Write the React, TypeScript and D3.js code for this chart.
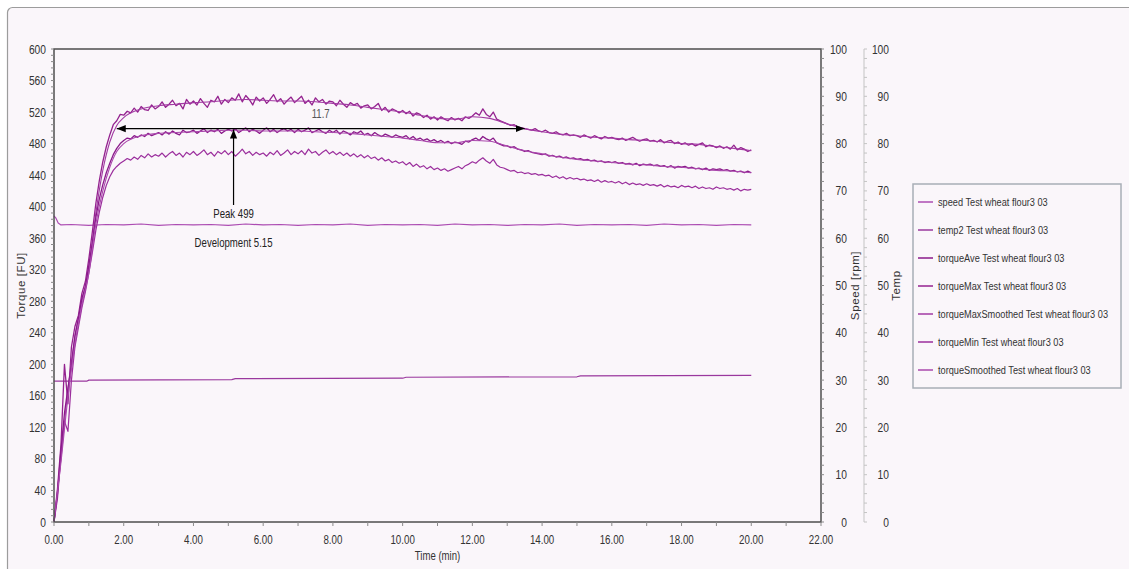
import React from 'react';
import * as d3 from 'd3';

const W = 1129;
const H = 569;
const FONT = "'Liberation Sans', Arial, sans-serif";

// ---- axis ticks ----
const timeTicks = [0, 2, 4, 6, 8, 10, 12, 14, 16, 18, 20, 22];
const torqueTicks = [0, 40, 80, 120, 160, 200, 240, 280, 320, 360, 400, 440, 480, 520, 560, 600];
const speedTicks = [0, 10, 20, 30, 40, 50, 60, 70, 80, 90, 100];
const tempTicks = [0, 10, 20, 30, 40, 50, 60, 70, 80, 90, 100];

// ---- sample times (min) for the noisy torque traces ----
const timeMin = [
  0.0, 0.1, 0.2, 0.3, 0.4, 0.5, 0.6, 0.7, 0.8, 0.9,
  1.0, 1.1, 1.2, 1.3, 1.4, 1.5, 1.6, 1.7, 1.8, 1.9,
  2.0, 2.1, 2.2, 2.3, 2.4, 2.5, 2.6, 2.7, 2.8, 2.9,
  3.0, 3.1, 3.2, 3.3, 3.4, 3.5, 3.6, 3.7, 3.8, 3.9,
  4.0, 4.1, 4.2, 4.3, 4.4, 4.5, 4.6, 4.7, 4.8, 4.9,
  5.0, 5.1, 5.2, 5.3, 5.4, 5.5, 5.6, 5.7, 5.8, 5.9,
  6.0, 6.1, 6.2, 6.3, 6.4, 6.5, 6.6, 6.7, 6.8, 6.9,
  7.0, 7.1, 7.2, 7.3, 7.4, 7.5, 7.6, 7.7, 7.8, 7.9,
  8.0, 8.1, 8.2, 8.3, 8.4, 8.5, 8.6, 8.7, 8.8, 8.9,
  9.0, 9.1, 9.2, 9.3, 9.4, 9.5, 9.6, 9.7, 9.8, 9.9,
  10.0, 10.1, 10.2, 10.3, 10.4, 10.5, 10.6, 10.7, 10.8, 10.9,
  11.0, 11.1, 11.2, 11.3, 11.4, 11.5, 11.6, 11.7, 11.8, 11.9,
  12.0, 12.1, 12.2, 12.3, 12.4, 12.5, 12.6, 12.7, 12.8, 12.9,
  13.0, 13.1, 13.2, 13.3, 13.4, 13.5, 13.6, 13.7, 13.8, 13.9,
  14.0, 14.1, 14.2, 14.3, 14.4, 14.5, 14.6, 14.7, 14.8, 14.9,
  15.0, 15.1, 15.2, 15.3, 15.4, 15.5, 15.6, 15.7, 15.8, 15.9,
  16.0, 16.1, 16.2, 16.3, 16.4, 16.5, 16.6, 16.7, 16.8, 16.9,
  17.0, 17.1, 17.2, 17.3, 17.4, 17.5, 17.6, 17.7, 17.8, 17.9,
  18.0, 18.1, 18.2, 18.3, 18.4, 18.5, 18.6, 18.7, 18.8, 18.9,
  19.0, 19.1, 19.2, 19.3, 19.4, 19.5, 19.6, 19.7, 19.8, 19.9,
  20.0,
];

const torqueMax = [
  0, 42, 98, 200, 150, 222, 248, 262, 290, 305,
  334, 368, 404, 433, 457, 476, 491, 504, 509, 517,
  516, 521, 519, 525, 520, 527, 523, 522, 529, 524,
  527, 533, 526, 530, 535, 528, 531, 524, 536, 530,
  534, 529, 537, 531, 526, 535, 533, 540, 530, 536,
  532, 538, 535, 543, 533, 541, 536, 529, 539, 534,
  538, 531, 536, 542, 533, 537, 530, 535, 539, 532,
  536, 540, 531, 535, 529, 538, 533, 536, 530, 534,
  533, 528, 535, 530, 526, 532, 529, 531, 525, 528,
  529, 524, 527, 531, 522, 526, 520, 524, 522, 519,
  522, 518, 521, 515, 519, 517, 513, 516, 511, 514,
  510, 514, 511, 509, 513, 510, 512, 509, 514, 512,
  515, 519, 516, 524, 517, 514, 520, 511, 509, 507,
  505, 503, 504, 501, 500, 499, 498, 497, 499, 496,
  495, 497, 494, 493, 495, 492, 491, 493, 490, 491,
  490, 488, 491, 489, 487, 490, 488, 486, 489, 487,
  488, 486, 485, 487, 484, 486, 488, 485, 483, 485,
  486, 483, 484, 482, 485, 481, 483, 484, 480, 482,
  479, 481, 478, 480, 477, 479, 481, 476, 478, 477,
  475, 477, 474, 476, 473, 478, 472, 475, 473, 470,
  472,
];

const torqueAve = [
  0, 36, 92, 138, 170, 198, 236, 258, 284, 298,
  326, 354, 386, 410, 428, 443, 455, 466, 474, 480,
  484, 487, 486, 490, 488, 491, 489, 493, 490, 492,
  494, 491, 495, 492, 496, 493, 491, 497, 494, 495,
  497, 493, 496, 499, 494, 497, 495, 498, 493, 496,
  498, 496, 499, 494, 497, 500, 495, 498, 496, 493,
  497, 500, 495, 498, 494, 497, 499, 496, 498, 494,
  498, 495, 497, 500, 494, 496, 498, 495, 493, 497,
  494, 497, 492, 496, 494, 491, 495, 493, 496, 491,
  493, 490, 494, 491, 489, 492, 490, 488, 491, 489,
  488, 490, 486, 489, 485, 487, 484, 486, 483, 485,
  482, 484, 481, 483, 480, 482, 481, 479, 483, 482,
  485, 487, 484, 489, 486, 484, 487, 481, 479, 477,
  477, 475, 476, 473, 472, 470, 471, 469, 468, 467,
  466, 467, 464, 465, 463, 464, 462, 463, 461, 462,
  460, 461, 459, 460, 458, 459, 457, 458, 456, 457,
  456, 457, 455, 456, 454, 455, 453, 455, 452, 454,
  453, 454, 452, 453, 451, 452, 450, 452, 449, 451,
  450, 451, 449, 450, 448, 449, 447, 449, 446, 448,
  447, 448, 446, 447, 445, 446, 444, 445, 443, 445,
  443,
];

const torqueMin = [
  0, 30, 84, 128, 115, 180, 222, 247, 272, 292,
  316, 342, 370, 393, 412, 427, 438, 446, 451, 455,
  458, 461, 459, 463, 460, 465, 462, 467, 463, 466,
  464, 468, 463, 467, 470, 465, 468, 463, 469, 466,
  470, 465, 468, 472, 466, 469, 464, 470, 467, 471,
  466, 470, 464, 468, 473, 467, 470, 465, 469, 466,
  468, 464, 469, 466, 471, 465, 468, 472, 466, 470,
  467, 471, 466, 473, 468, 470, 465, 469, 472, 467,
  470, 466, 469, 465, 468, 464, 467, 463, 466, 462,
  465, 461, 463, 459, 462, 458, 460, 456, 458, 455,
  457, 453, 456, 451, 454, 450, 452, 448, 451, 447,
  449, 446, 448, 445, 447, 449, 451, 448, 452, 454,
  457, 455, 459, 462, 458, 455, 460, 453, 450, 449,
  447, 445, 446, 443, 444, 442, 443, 441, 442, 440,
  441, 439, 440, 437, 439, 436, 438, 435, 437, 435,
  436, 434, 435, 433, 434, 432, 434, 431, 433, 431,
  432, 430, 432, 429, 431, 428, 430, 428, 429, 427,
  429, 427, 428, 426, 428, 425, 427, 425, 426, 424,
  427, 425, 426, 424, 426, 423, 425, 423, 424, 422,
  425, 423, 424, 422, 423, 421, 423, 420, 422, 421,
  422,
];

// ---- smoothed traces ----
const smoothTime = [
  0, 0.2, 0.4, 0.6, 0.8, 1.0, 1.2, 1.4, 1.6, 1.8, 2.0,
  2.5, 3, 3.5, 4, 4.5, 5, 5.5, 6, 6.5, 7, 7.5, 8, 8.5, 9, 9.5, 10,
  10.5, 11, 11.5, 12, 12.5, 13, 13.5, 14, 14.5, 15, 15.5, 16, 16.5, 17,
  17.5, 18, 18.5, 19, 19.5, 20,
];
const torqueMaxSmoothed = [
  0, 80, 168, 235, 280, 322, 392, 446, 482, 503, 513,
  524, 528, 530, 532, 533, 535, 536, 535, 534, 534, 533, 531, 529, 526, 523, 520,
  516, 512, 511, 514, 512, 505, 499, 495, 492, 490, 488, 487, 485, 484,
  482, 480, 479, 476, 474, 471,
];
const torqueSmoothed = [
  0, 76, 158, 225, 275, 316, 378, 420, 450, 470, 480,
  490, 493, 494, 495, 496, 497, 497, 496, 496, 496, 495, 494, 493, 491, 489, 487,
  484, 481, 481, 484, 483, 477, 471, 467, 463, 460, 458, 456, 454, 453,
  451, 450, 448, 446, 445, 443,
];

// ---- speed (rpm) ----
const speedTime = [
  0, 0.05, 0.12, 0.2,
  0.5, 1, 1.5, 2, 2.5, 3, 3.5, 4, 4.5, 5,
  5.5, 6, 6.5, 7, 7.5, 8, 8.5, 9, 9.5, 10,
  10.5, 11, 11.5, 12, 12.5, 13, 13.5, 14, 14.5, 15,
  15.5, 16, 16.5, 17, 17.5, 18, 18.5, 19, 19.5, 20,
];
const speedRpm = [
  64.7, 64.3, 63.2, 62.8,
  62.9, 62.7, 62.9, 62.8, 63.0, 62.7, 62.9, 62.8, 62.9, 62.7,
  63.0, 62.8, 62.9, 62.7, 62.9, 62.8, 63.0, 62.7, 62.9, 62.8,
  62.9, 62.7, 63.0, 62.8, 62.9, 62.7, 62.9, 62.8, 63.0, 62.7,
  62.9, 62.8, 62.9, 62.7, 63.0, 62.8, 62.9, 62.7, 62.9, 62.8,
];

// ---- temperature ----
const tempTime = [0, 0.95, 1.0, 5.1, 5.2, 10.0, 10.1, 15.0, 15.1, 20.0];
const tempDeg = [29.8, 29.8, 30.0, 30.1, 30.3, 30.4, 30.6, 30.7, 30.9, 31.0];

// ---- annotations ----
const peakTorque = 499;
const developmentTime = 5.15;
const stabilityStart = 1.8;
const stability = 11.7;

const legendNames = [
  'speed Test wheat flour3 03',
  'temp2 Test wheat flour3 03',
  'torqueAve Test wheat flour3 03',
  'torqueMax Test wheat flour3 03',
  'torqueMaxSmoothed Test wheat flour3 03',
  'torqueMin Test wheat flour3 03',
  'torqueSmoothed Test wheat flour3 03',
];
const seriesColors = ['#AC4CB2', '#9A389E', '#8A1A8A', '#94228F', '#A23AA3', '#9B2E9D', '#AA48AD'];

type TProps = {
  x: number; y: number; size?: number; sx?: number; anchor?: 'start' | 'middle' | 'end';
  fill?: string; dy?: string; children: React.ReactNode;
};
function T({ x, y, size = 12, sx = 0.8, anchor = 'start', fill = '#333', dy, children }: TProps) {
  return (
    <text transform={`translate(${x},${y}) scale(${sx},1)`} textAnchor={anchor} fontSize={size} fill={fill} dy={dy}>
      {children}
    </text>
  );
}

export default function App() {
  const x = d3.scaleLinear().domain([0, 22]).range([54, 821]);
  const yT = d3.scaleLinear().domain([0, 600]).range([522, 49]);
  const yS = d3.scaleLinear().domain([0, 100]).range([522, 49]);
  const yTemp = d3.scaleLinear().domain([0, 100]).range([522, 49]);

  const mk = (ts: number[], vs: number[], ys: d3.ScaleLinear<number, number>, curve: d3.CurveFactory) =>
    d3.line<number>().x((_, i) => x(ts[i])).y((v) => ys(v)).curve(curve)(vs) || '';

  const left = x.range()[0], right = x.range()[1];
  const top = yT.range()[1], bottom = yT.range()[0];
  const tempAxisX = 864;

  const torqueMinor = d3.range(0, 601, 8);
  const timeMinor = d3.range(0, 22.01, 1);
  const pctMinor = d3.range(0, 101, 2);

  const paths = [
    { d: mk(speedTime, speedRpm, yS, d3.curveLinear), c: seriesColors[0], w: 1.2 },
    { d: mk(tempTime, tempDeg, yTemp, d3.curveLinear), c: seriesColors[1], w: 1.2 },
    { d: mk(timeMin, torqueMin, yT, d3.curveLinear), c: seriesColors[5], w: 1.2 },
    { d: mk(timeMin, torqueMax, yT, d3.curveLinear), c: seriesColors[3], w: 1.3 },
    { d: mk(smoothTime, torqueMaxSmoothed, yT, d3.curveMonotoneX), c: seriesColors[4], w: 1.1 },
    { d: mk(timeMin, torqueAve, yT, d3.curveLinear), c: seriesColors[2], w: 1.3 },
    { d: mk(smoothTime, torqueSmoothed, yT, d3.curveMonotoneX), c: seriesColors[6], w: 1.1 },
  ];

  const ay = yT(peakTorque);
  const ax1 = x(stabilityStart);
  const ax2 = x(stabilityStart + stability);
  const dx = x(developmentTime);

  const legendX = 913, legendY = 184;

  return (
    <svg width={W} height={H} style={{ position: 'absolute', left: 0, top: 0, display: 'block' }}
      fontFamily={FONT}>
      <rect x={0} y={0} width={W} height={H} fill="#ffffff" />
      <rect x={7.5} y={7.5} width={W + 10} height={H + 10} rx={5} fill="#FAF6FA" stroke="#9C9C9C" strokeWidth={1.2} />

      {/* data */}
      {paths.map((p, i) => (
        <path key={i} d={p.d} fill="none" stroke={p.c} strokeWidth={p.w} strokeLinejoin="round" />
      ))}

      {/* plot frame */}
      <rect x={left} y={top} width={right - left} height={bottom - top} fill="none" stroke="#4E4E4E" strokeWidth={1.5} />

      {/* left torque axis */}
      {torqueMinor.map((v) => (
        <line key={'tm' + v} x1={left - 3} x2={left} y1={yT(v)} y2={yT(v)} stroke="#8A8A8A" strokeWidth={1} />
      ))}
      {torqueTicks.map((v) => (
        <T key={'tt' + v} x={46} y={yT(v)} dy="0.36em" anchor="end" size={12.5} sx={0.82}>{v}</T>
      ))}
      <text transform={`translate(25,${(top + bottom) / 2}) rotate(-90)`} textAnchor="middle" fontSize={11.5} letterSpacing={0.6} fill="#333">Torque [FU]</text>

      {/* time axis */}
      {timeMinor.map((v) => (
        <line key={'xm' + v} x1={x(v)} x2={x(v)} y1={bottom} y2={bottom + 4} stroke="#8A8A8A" strokeWidth={1} />
      ))}
      {timeTicks.map((v) => (
        <T key={'xt' + v} x={x(v)} y={544} anchor="middle" size={12.5} sx={0.78}>{d3.format('.2f')(v)}</T>
      ))}
      <T x={(left + right) / 2} y={560} anchor="middle" size={12} sx={0.8}>Time (min)</T>

      {/* speed axis */}
      {pctMinor.map((v) => (
        <line key={'sm' + v} x1={right} x2={right + 3} y1={yS(v)} y2={yS(v)} stroke="#8A8A8A" strokeWidth={1} />
      ))}
      {speedTicks.map((v) => (
        <T key={'st' + v} x={847} y={yS(v)} dy="0.36em" anchor="end" size={12.5} sx={0.82}>{v}</T>
      ))}
      <text transform={`translate(859,${(top + bottom) / 2}) rotate(-90)`} textAnchor="middle" fontSize={11.5} letterSpacing={0.6} fill="#333">Speed [rpm]</text>

      {/* temp axis */}
      <line x1={tempAxisX} x2={tempAxisX} y1={top} y2={bottom} stroke="#C4C4C4" strokeWidth={1} />
      {pctMinor.map((v) => (
        <line key={'pm' + v} x1={tempAxisX} x2={tempAxisX + 3} y1={yTemp(v)} y2={yTemp(v)} stroke="#C4C4C4" strokeWidth={1} />
      ))}
      {tempTicks.map((v) => (
        <T key={'pt' + v} x={889} y={yTemp(v)} dy="0.36em" anchor="end" size={12.5} sx={0.82}>{v}</T>
      ))}
      <text transform={`translate(900,${(top + bottom) / 2}) rotate(-90)`} textAnchor="middle" fontSize={11.5} letterSpacing={0.6} fill="#333">Temp</text>

      {/* annotations */}
      <defs>
        <marker id="ah" viewBox="0 0 10 10" refX={10} refY={5} markerWidth={9} markerHeight={9} markerUnits="userSpaceOnUse" orient="auto-start-reverse">
          <path d="M0,1 L10,5 L0,9 Z" fill="#000" />
        </marker>
      </defs>
      <line x1={ax1} x2={ax2} y1={ay} y2={ay} stroke="#000" strokeWidth={1.2} markerStart="url(#ah)" markerEnd="url(#ah)" />
      <T x={(ax1 + ax2) / 2} y={ay - 11} anchor="middle" size={12} sx={0.8} fill="#555">{stability}</T>
      <line x1={dx} x2={dx} y1={205} y2={ay + 1} stroke="#000" strokeWidth={1.2} markerEnd="url(#ah)" />
      <T x={dx} y={218} anchor="middle" size={12} sx={0.8} fill="#222">{`Peak ${peakTorque}`}</T>
      <T x={dx} y={247} anchor="middle" size={12} sx={0.8} fill="#222">{`Development ${developmentTime}`}</T>

      {/* legend */}
      <rect x={legendX} y={legendY} width={208} height={204} fill="#FAF6FA" stroke="#A8AEB6" strokeWidth={1.5} />
      {legendNames.map((n, i) => (
        <g key={n} transform={`translate(${legendX},${legendY + 18 + i * 28})`}>
          <line x1={5} x2={20} y1={0} y2={0} stroke={seriesColors[i]} strokeWidth={1.5} />
          <T x={25} y={0} dy="0.36em" size={11.5} sx={0.8}>{n}</T>
        </g>
      ))}
    </svg>
  );
}
